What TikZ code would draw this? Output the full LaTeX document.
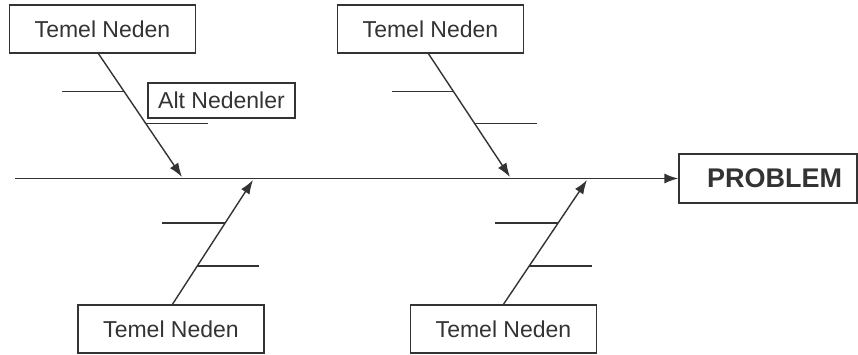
\documentclass[tikz,border=0pt]{standalone}
\usepackage{fontspec}
\setmainfont{Liberation Sans}
\usetikzlibrary{arrows.meta,calc}
\definecolor{ink}{HTML}{333333}
\begin{document}
\begin{tikzpicture}[x=1pt,y=-1pt,
  causebox/.style={draw=ink,line width=1.2pt,inner sep=0pt,minimum width=186pt,minimum height=48pt,
    text=ink,font=\fontsize{23}{27}\selectfont},
  subbox/.style={draw=ink,line width=1.2pt,inner sep=0pt,minimum width=147pt,minimum height=35pt,
    text=ink,font=\fontsize{23}{27}\selectfont},
  probbox/.style={draw=ink,line width=1.2pt,inner sep=0pt,minimum width=178pt,minimum height=49pt,
    text=ink,font=\fontsize{27}{30}\selectfont\bfseries},
  bone/.style={draw=ink,line width=1.4pt,-{Latex[length=14pt,width=10pt]}},
  spine/.style={draw=ink,line width=1.7pt,-{Latex[length=14pt,width=10pt]}},
  twig/.style={draw=ink,line width=1.1pt}]
\useasboundingbox (0,0) rectangle (858,354);

% boxes
\node[causebox] (tl) at (102.5,29) {Temel Neden};
\node[causebox] (tm) at (430.5,29) {Temel Neden};
\node[causebox] (bl) at (171,329) {Temel Neden};
\node[causebox] (br) at (503.5,329) {Temel Neden};
\node[probbox]  (pr) at (768,178.5) {\hspace*{13pt}PROBLEM};
\node[subbox]   (alt) at (221.5,100.5) {Alt Nedenler};

% spine
\coordinate (tail) at (15,178.5);
\draw[spine] (tail) -- (pr.west);

% bones: start on the box edges, end on the spine
\coordinate (tlA) at (98,53);   \coordinate (tlB) at (182,177);
\coordinate (tmA) at (428,53);  \coordinate (tmB) at (510,177);
\coordinate (blA) at (172,305); \coordinate (blB) at (253,180);
\coordinate (brA) at (503,305); \coordinate (brB) at (587,180);

\draw[bone] (tlA) -- (tlB);
\draw[bone] (tmA) -- (tmB);
\draw[bone] (blA) -- (blB);
\draw[bone] (brA) -- (brB);

% sub-cause twigs
\draw[twig] ($(tlA)!0.312!(tlB)$) -- ++(-62,0);
\draw[twig] ($(tlA)!0.568!(tlB)$) -- ++(62,0);
\draw[twig] ($(tmA)!0.312!(tmB)$) -- ++(-62,0);
\draw[twig] ($(tmA)!0.568!(tmB)$) -- ++(62,0);
\draw[twig] ($(blA)!0.656!(blB)$) -- ++(-63,0);
\draw[twig] ($(blA)!0.312!(blB)$) -- ++(62,0);
\draw[twig] ($(brA)!0.656!(brB)$) -- ++(-63,0);
\draw[twig] ($(brA)!0.312!(brB)$) -- ++(63,0);
\end{tikzpicture}
\end{document}
